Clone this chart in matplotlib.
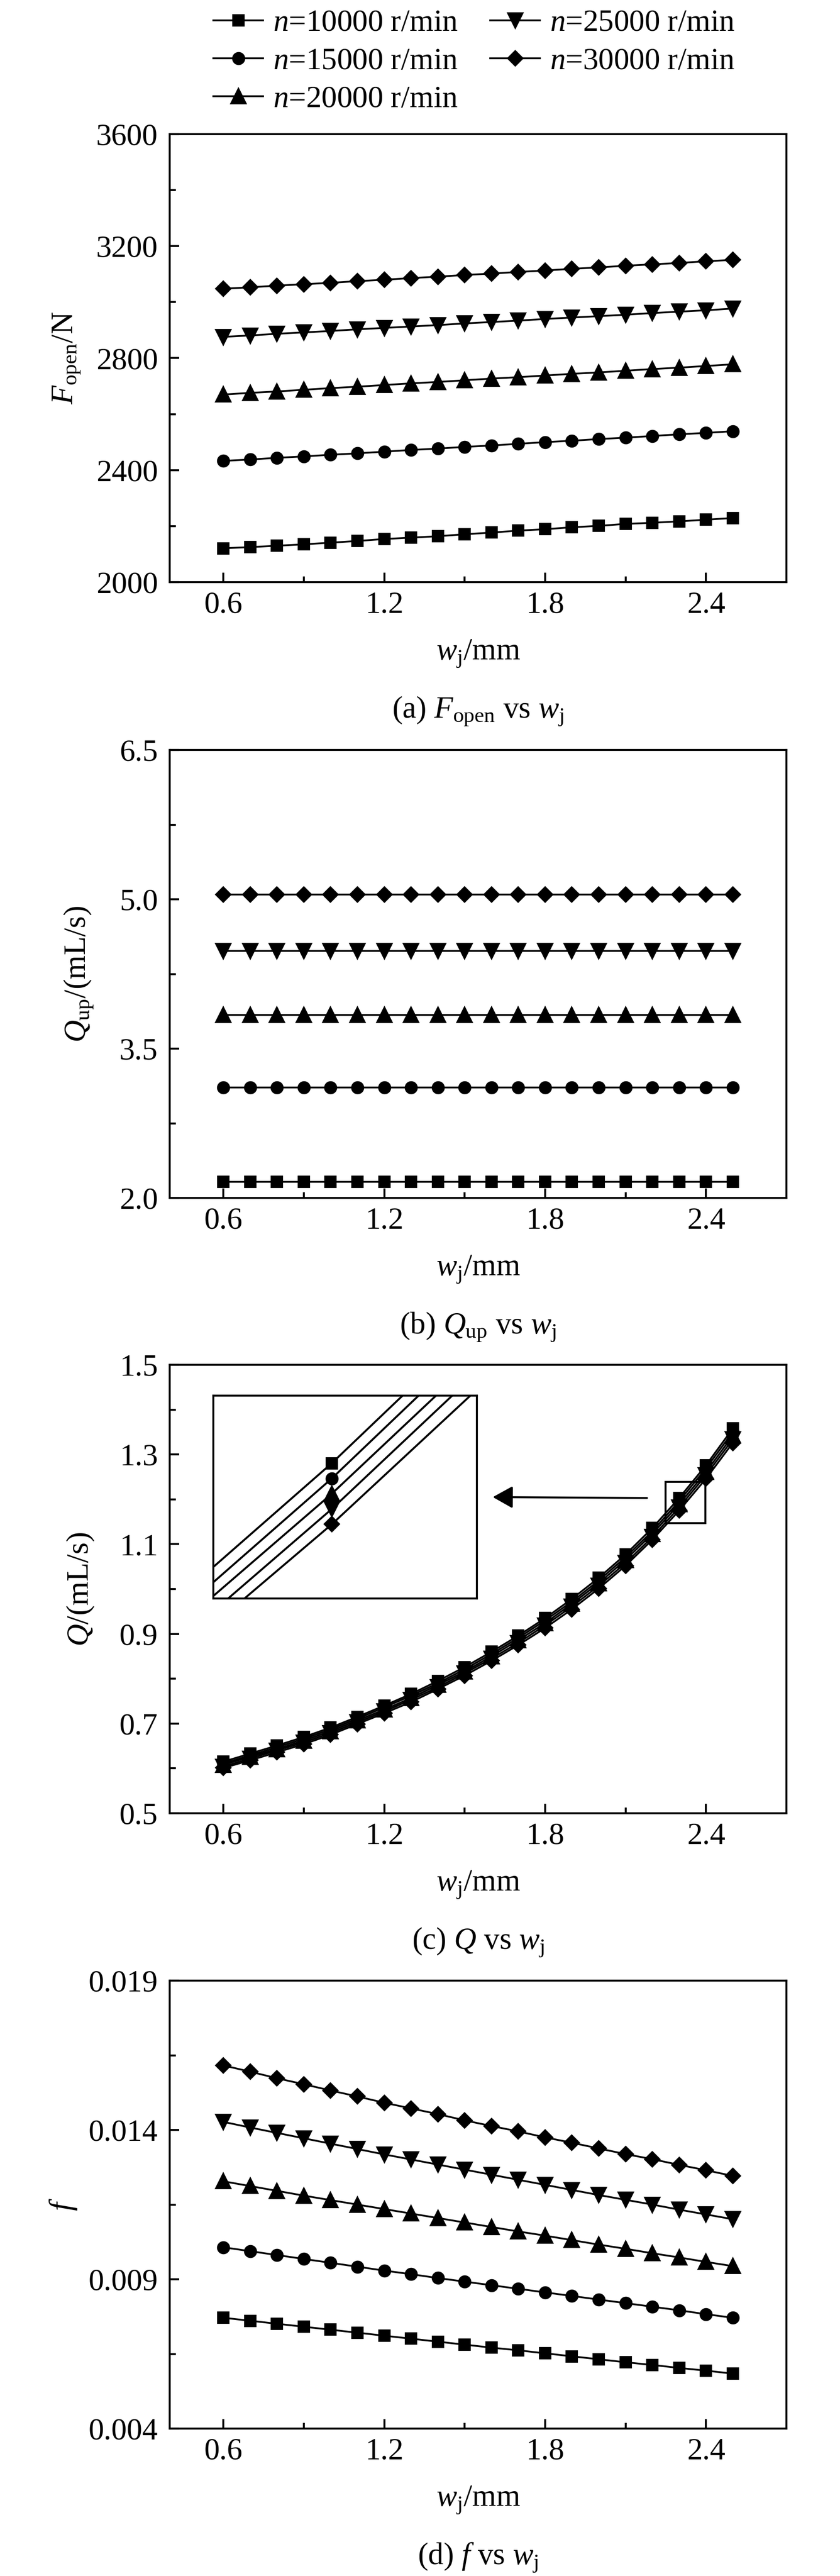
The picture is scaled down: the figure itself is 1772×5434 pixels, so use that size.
import matplotlib
matplotlib.use("Agg")
import matplotlib.pyplot as plt
from matplotlib.ticker import FixedLocator, FormatStrFormatter
from matplotlib.patches import Rectangle
from matplotlib.lines import Line2D

plt.rcParams['font.family'] = ['Liberation Serif', 'DejaVu Serif']
plt.rcParams['mathtext.fontset'] = 'custom'
plt.rcParams['mathtext.rm'] = 'Liberation Serif'
plt.rcParams['mathtext.it'] = 'Liberation Serif:italic'
plt.rcParams['mathtext.bf'] = 'Liberation Serif:bold'

FS = 15.6

# jet width (mm)
wj = [0.6, 0.7, 0.8, 0.9, 1.0, 1.1, 1.2, 1.3, 1.4, 1.5,
      1.6, 1.7, 1.8, 1.9, 2.0, 2.1, 2.2, 2.3, 2.4, 2.5]

speeds = ['10000', '15000', '20000', '25000', '30000']

# (a) opening force F_open / N
f_open_10000 = [2121, 2125, 2130, 2135, 2141, 2147, 2154, 2159, 2164, 2171,
                2177, 2184, 2189, 2196, 2201, 2208, 2212, 2217, 2223, 2229]
f_open_15000 = [2433, 2438, 2444, 2449, 2455, 2460, 2466, 2472, 2477, 2483,
                2488, 2494, 2500, 2505, 2511, 2516, 2522, 2528, 2533, 2539]
f_open_20000 = [2670, 2676, 2681, 2687, 2693, 2698, 2704, 2710, 2715, 2721,
                2727, 2732, 2738, 2744, 2749, 2755, 2761, 2766, 2772, 2778]
f_open_25000 = [2876, 2881, 2887, 2892, 2897, 2903, 2908, 2913, 2918, 2924,
                2929, 2934, 2940, 2945, 2950, 2955, 2961, 2966, 2971, 2977]
f_open_30000 = [3048, 3053, 3059, 3064, 3069, 3075, 3080, 3086, 3091, 3097,
                3102, 3108, 3113, 3119, 3124, 3130, 3135, 3140, 3146, 3151]

# (b) pumping flow Q_up / (mL/s)
q_up_10000 = [2.16, 2.16, 2.16, 2.16, 2.16, 2.16, 2.16, 2.16, 2.16, 2.16,
              2.16, 2.16, 2.16, 2.16, 2.16, 2.16, 2.16, 2.16, 2.16, 2.16]
q_up_15000 = [3.11, 3.11, 3.11, 3.11, 3.11, 3.11, 3.11, 3.11, 3.11, 3.11,
              3.11, 3.11, 3.11, 3.11, 3.11, 3.11, 3.11, 3.11, 3.11, 3.11]
q_up_20000 = [3.84, 3.84, 3.84, 3.84, 3.84, 3.84, 3.84, 3.84, 3.84, 3.84,
              3.84, 3.84, 3.84, 3.84, 3.84, 3.84, 3.84, 3.84, 3.84, 3.84]
q_up_25000 = [4.48, 4.48, 4.48, 4.48, 4.48, 4.48, 4.48, 4.48, 4.48, 4.48,
              4.48, 4.48, 4.48, 4.48, 4.48, 4.48, 4.48, 4.48, 4.48, 4.48]
q_up_30000 = [5.05, 5.05, 5.05, 5.05, 5.05, 5.05, 5.05, 5.05, 5.05, 5.05,
              5.05, 5.05, 5.05, 5.05, 5.05, 5.05, 5.05, 5.05, 5.05, 5.05]

# (c) leakage Q / (mL/s)
q_10000 = [0.615, 0.633, 0.651, 0.670, 0.691, 0.715, 0.740, 0.766, 0.795, 0.826,
           0.860, 0.896, 0.935, 0.978, 1.025, 1.077, 1.136, 1.203, 1.276, 1.358]
q_15000 = [0.611, 0.629, 0.647, 0.666, 0.687, 0.711, 0.736, 0.762, 0.790, 0.821,
           0.855, 0.891, 0.930, 0.972, 1.019, 1.071, 1.129, 1.196, 1.269, 1.350]
q_20000 = [0.608, 0.626, 0.643, 0.662, 0.683, 0.707, 0.731, 0.757, 0.786, 0.816,
           0.850, 0.886, 0.924, 0.967, 1.013, 1.065, 1.123, 1.189, 1.261, 1.342]
q_25000 = [0.604, 0.622, 0.640, 0.658, 0.679, 0.703, 0.727, 0.753, 0.781, 0.812,
           0.845, 0.880, 0.919, 0.961, 1.007, 1.058, 1.116, 1.182, 1.254, 1.334]
q_30000 = [0.601, 0.618, 0.636, 0.654, 0.675, 0.699, 0.723, 0.748, 0.777, 0.807,
           0.840, 0.875, 0.913, 0.955, 1.001, 1.052, 1.110, 1.175, 1.246, 1.326]

# (d) friction coefficient f
fr_10000 = [0.00771, 0.00761, 0.00751, 0.00741, 0.00731, 0.00721, 0.00711, 0.00701, 0.00691, 0.00681,
            0.00671, 0.00662, 0.00652, 0.00642, 0.00632, 0.00622, 0.00613, 0.00603, 0.00594, 0.00584]
fr_15000 = [0.01007, 0.00994, 0.00981, 0.00968, 0.00955, 0.00942, 0.00929, 0.00917, 0.00904, 0.00892,
            0.00880, 0.00868, 0.00856, 0.00844, 0.00832, 0.00820, 0.00808, 0.00796, 0.00783, 0.00771]
fr_20000 = [0.01228, 0.01212, 0.01196, 0.01180, 0.01165, 0.01150, 0.01135, 0.01120, 0.01105, 0.01090,
            0.01075, 0.01060, 0.01046, 0.01031, 0.01016, 0.01002, 0.00987, 0.00973, 0.00958, 0.00944]
fr_25000 = [0.01427, 0.01408, 0.01390, 0.01372, 0.01354, 0.01336, 0.01318, 0.01301, 0.01284, 0.01267,
            0.01250, 0.01233, 0.01216, 0.01199, 0.01182, 0.01166, 0.01150, 0.01133, 0.01117, 0.01101]
fr_30000 = [0.01616, 0.01595, 0.01573, 0.01553, 0.01532, 0.01512, 0.01491, 0.01472, 0.01453, 0.01432,
            0.01413, 0.01395, 0.01375, 0.01357, 0.01338, 0.01319, 0.01302, 0.01283, 0.01265, 0.01246]

markers = ['s', 'o', '^', 'v', 'D']
msizes = [5.3, 5.6, 7.0, 7.0, 5.0]

W, H = 1772, 5434
fig = plt.figure(figsize=(W / 300, H / 300), dpi=300)


def make_axes(top_px, bottom_px):
    left, right = 358, 1659
    return fig.add_axes([left / W, 1 - bottom_px / H, (right - left) / W, (bottom_px - top_px) / H])


def style(ax, yticks, yminor, ylim, yfmt, ylabel, ylab_x, caption):
    ax.set_xlim(0.4, 2.7)
    ax.set_ylim(*ylim)
    ax.xaxis.set_major_locator(FixedLocator([0.6, 1.2, 1.8, 2.4]))
    ax.xaxis.set_minor_locator(FixedLocator([0.9, 1.5, 2.1]))
    ax.xaxis.set_major_formatter(FormatStrFormatter('%.1f'))
    ax.yaxis.set_major_locator(FixedLocator(yticks))
    ax.yaxis.set_minor_locator(FixedLocator(yminor))
    ax.yaxis.set_major_formatter(FormatStrFormatter(yfmt))
    ax.tick_params(which='both', direction='in', top=False, right=False, width=1.0,
                   labelsize=FS)
    ax.tick_params(which='major', length=4.8)
    ax.tick_params(which='minor', length=3.0)
    ax.tick_params(axis='x', which='major', pad=4.5)
    ax.tick_params(axis='y', which='major', pad=6)
    for sp in ax.spines.values():
        sp.set_linewidth(1.0)
    hgt = ax.get_position().height * H
    ax.text(0.5, -151 / hgt, r'$w_{\rm j}$/mm', transform=ax.transAxes,
            ha='center', va='center', fontsize=FS)
    ax.text(0.5, -272 / hgt, caption, transform=ax.transAxes,
            ha='center', va='center', fontsize=FS)
    ax.text((ylab_x - 358) / 1301, 0.5, ylabel, transform=ax.transAxes, rotation=90,
            ha='center', va='center', fontsize=FS)


def plot_series(ax, series, lw=0.9):
    for ys, m, ms in zip(series, markers, msizes):
        ax.plot(wj, ys, color='black', lw=lw, marker=m, ms=ms, mec='black', mfc='black')


# (a)
ax_a = make_axes(283, 1228)
plot_series(ax_a, [f_open_10000, f_open_15000, f_open_20000, f_open_25000, f_open_30000])
style(ax_a, [2000, 2400, 2800, 3200, 3600], [2200, 2600, 3000, 3400], (2000, 3600), '%d',
      r'$F_{\rm open}$/N', 141, r'(a) $F_{\rm open}$ vs $w_{\rm j}$')

# (b)
ax_b = make_axes(1582, 2527)
plot_series(ax_b, [q_up_10000, q_up_15000, q_up_20000, q_up_25000, q_up_30000])
style(ax_b, [2.0, 3.5, 5.0, 6.5], [2.75, 4.25, 5.75], (2.0, 6.5), '%.1f',
      r'$Q_{\rm up}$/(mL/s)', 166, r'(b) $Q_{\rm up}$ vs $w_{\rm j}$')

# (c)
ax_c = make_axes(2879, 3825)
q_series = [q_10000, q_15000, q_20000, q_25000, q_30000]
plot_series(ax_c, q_series)
style(ax_c, [0.5, 0.7, 0.9, 1.1, 1.3, 1.5], [0.6, 0.8, 1.0, 1.2, 1.4], (0.5, 1.5), '%.1f',
      r'$Q$/(mL/s)', 170, r'(c) $Q$ vs $w_{\rm j}$')

# zoom box, arrow and magnified inset
ax_c.add_patch(Rectangle((2.249, 1.147), 0.149, 0.092, fill=False, lw=1.0, ec='black', zorder=5))
ax_c.annotate('', xy=(1.605, 1.205), xytext=(2.180, 1.203),
              arrowprops=dict(arrowstyle='-|>,head_length=0.43,head_width=0.24',
                              mutation_scale=20, lw=1.0, color='black',
                              shrinkA=0, shrinkB=0))
ins = ax_c.inset_axes([0.0707, 0.4789, 0.4274, 0.4524])
plot_series(ins, q_series, lw=1.0)
ins.set_xlim(2.229, 2.387)
ins.set_ylim(1.141, 1.234)
ins.set_xticks([])
ins.set_yticks([])
for sp in ins.spines.values():
    sp.set_linewidth(1.0)

# (d)
ax_d = make_axes(4178, 5123)
plot_series(ax_d, [fr_10000, fr_15000, fr_20000, fr_25000, fr_30000])
style(ax_d, [0.004, 0.009, 0.014, 0.019], [0.0065, 0.0115, 0.0165], (0.004, 0.019), '%.3f',
      r'$f$', 133, r'(d) $f$ vs $w_{\rm j}$')

# shared legend on top
handles = [Line2D([], [], color='black', lw=0.9, marker=m, ms=ms, mfc='black', mec='black')
           for m, ms in zip(markers, msizes)]
labels = [r'$n$=' + s + ' r/min' for s in speeds]
fig.legend(handles, labels, loc='upper left', bbox_to_anchor=(450 / W, 1 - 20 / H), ncol=2,
           frameon=False, borderpad=0, borderaxespad=0, fontsize=FS, handlelength=1.62,
           handletextpad=0.32, columnspacing=1.05, labelspacing=0.32)

fig.savefig('out.png', dpi=300)
